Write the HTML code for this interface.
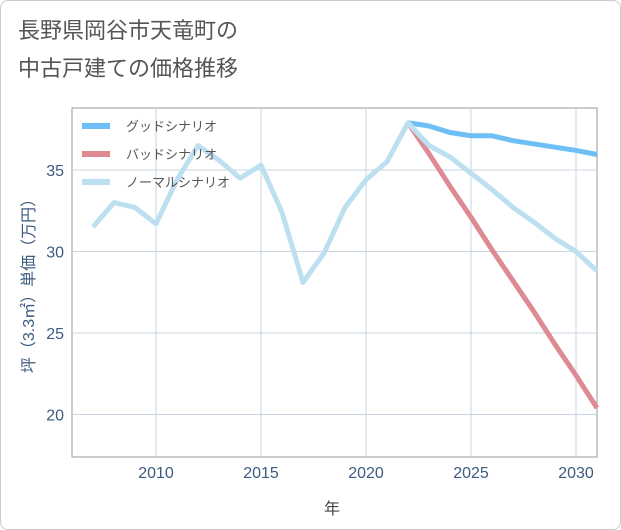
<!DOCTYPE html>
<html><head><meta charset="utf-8"><style>
body{margin:0;background:#fff;font-family:"Liberation Sans","Noto Sans CJK JP",sans-serif;}
.frame{position:absolute;left:0;top:0;width:619px;height:528px;border:1px solid #ccc;border-radius:8px;}
</style></head><body>
<div class="frame"></div>
<svg width="621" height="530" style="position:absolute;left:0;top:0">
<text x="18" y="38" font-size="22" fill="#555">長野県岡谷市天竜町の</text>
<text x="18" y="76" font-size="22" fill="#555">中古戸建ての価格推移</text>
<g id="grid"></g><g id="series"></g><g id="legend"></g>
<text x="332" y="514" font-size="16" fill="#444" text-anchor="middle">年</text>
<text transform="translate(34,282) rotate(-90)" font-size="16" fill="#3d5a80" text-anchor="middle">坪（3.3㎡）単価（万円）</text>
</svg>
<script>
const years=[2007,2008,2009,2010,2011,2012,2013,2014,2015,2016,2017,2018,2019,2020,2021,2022,2023,2024,2025,2026,2027,2028,2029,2030,2031];
const normal=[31.5,33.0,32.7,31.7,34.4,36.5,35.6,34.5,35.3,32.4,28.1,29.9,32.7,34.4,35.5,37.9,36.5,35.8,34.8,33.8,32.7,31.8,30.8,30.0,28.8];
const fYears=[2022,2023,2024,2025,2026,2027,2028,2029,2030,2031];
const good=[37.9,37.7,37.3,37.1,37.1,36.8,36.6,36.4,36.2,35.95];
const bad=[37.9,36.0,34.0,32.1,30.1,28.2,26.3,24.3,22.4,20.4];
const xTicks=[2010,2015,2020,2025,2030];
const yTicks=[20,25,30,35];
const L=72,R=597,T=108,B=457;
const X=y=>L+(y-2006)*21;
const Y=v=>170-(v-35)*16.3;
const ns="http://www.w3.org/2000/svg";
function mk(p,t,a){const e=document.createElementNS(ns,t);for(const k in a)e.setAttribute(k,a[k]);p.appendChild(e);return e;}
const g=document.getElementById('grid');
let r=mk(g,'rect',{x:L,y:T,width:R-L,height:B-T,fill:'none',stroke:'#999'});


xTicks.forEach(t=>{const l=mk(g,'line',{x1:X(t),x2:X(t),y1:T,y2:B,stroke:'#c8d4e0'});


const tx=mk(g,'text',{x:X(t),y:478,'font-size':16,fill:'#3d5a80','text-anchor':'middle'});tx.textContent=t;

});
yTicks.forEach(t=>{const l=mk(g,'line',{x1:L,x2:R,y1:Y(t),y2:Y(t),stroke:'#c8d4e0'});


const tx=mk(g,'text',{x:64,y:Y(t)+6,'font-size':16,fill:'#3d5a80','text-anchor':'end'});tx.textContent=t;

});
const s=document.getElementById('series');
function line(xs,vs,c,n){const p=mk(s,'polyline',{points:xs.map((x,i)=>X(x)+','+Y(vs[i])).join(' '),fill:'none',stroke:c,'stroke-width':5,'stroke-linejoin':'round'});

}
line(fYears,bad,'#de8a92','bad-scenario-line');
line(fYears,good,'#6ebff5','good-scenario-line');
line(years,normal,'#bde0f0','normal-scenario-line');
const lg=document.getElementById('legend');
[['グッドシナリオ','#6ebff5','legend-good'],['バッドシナリオ','#de8a92','legend-bad'],['ノーマルシナリオ','#bde0f0','legend-normal']].forEach((d,i)=>{
const y=126+i*28;
const gg=mk(lg,'g',{});


mk(gg,'line',{x1:82,x2:110,y1:y,y2:y,stroke:d[1],'stroke-width':6});
const t=mk(gg,'text',{x:126,y:y+5,'font-size':13,fill:'#555'});t.textContent=d[0];});
</script>
</body></html>
